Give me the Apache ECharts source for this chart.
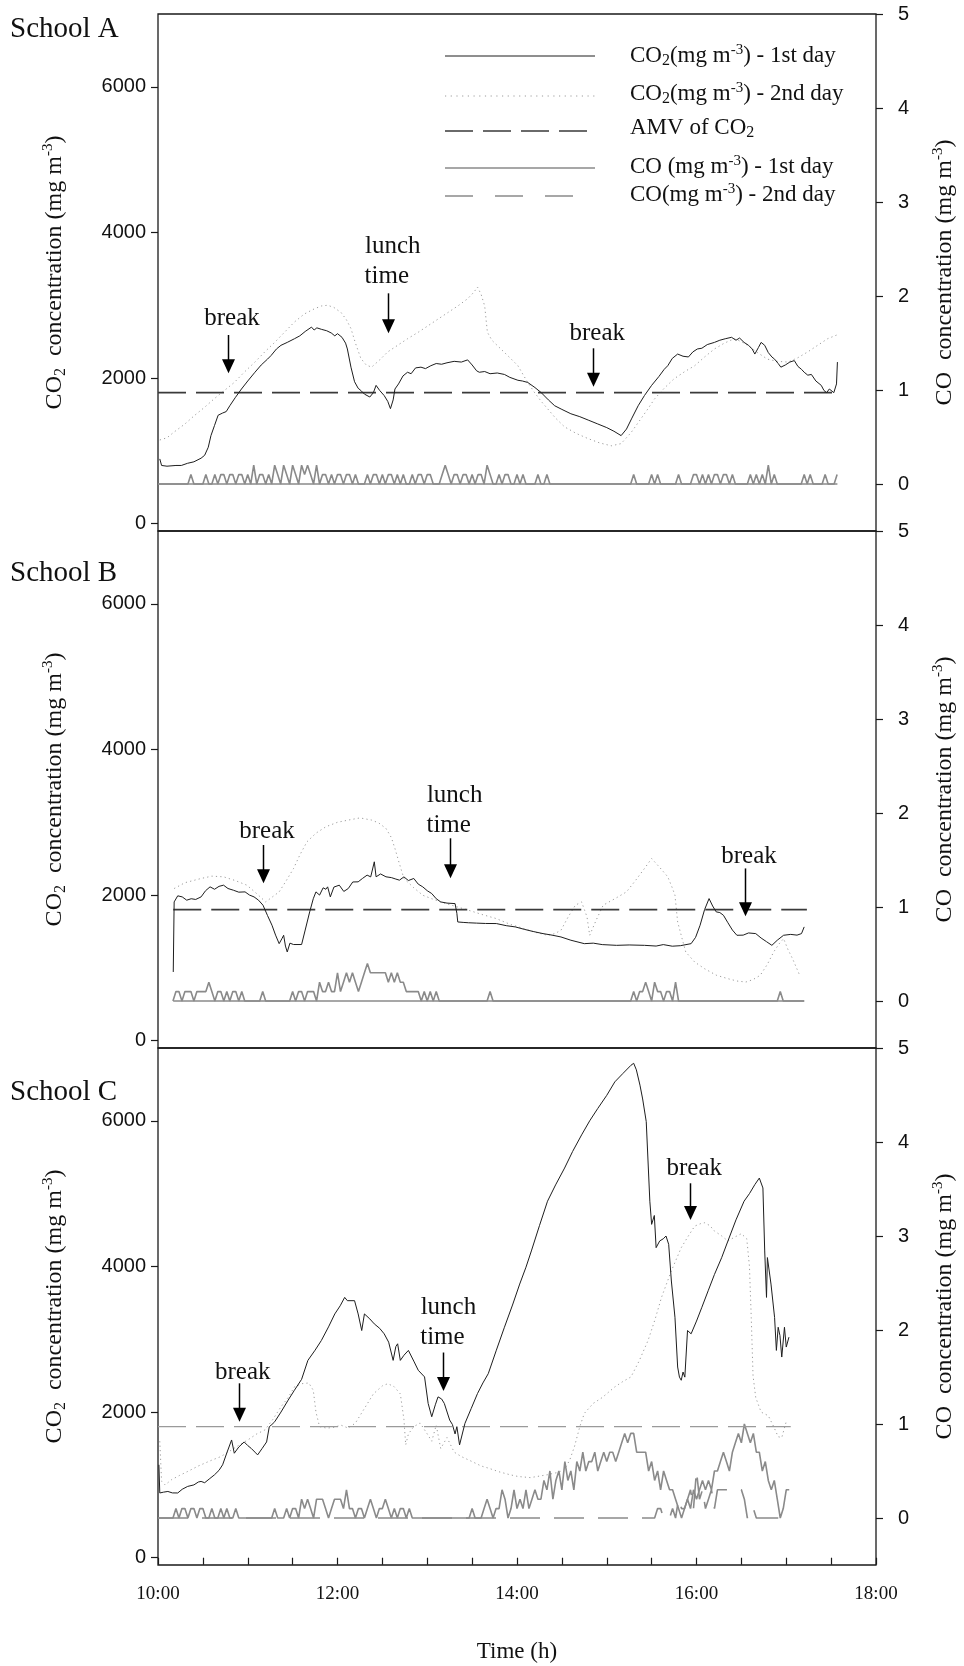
<!DOCTYPE html>
<html><head><meta charset="utf-8">
<script src="https://cdn.jsdelivr.net/npm/echarts@6/dist/echarts.min.js"></script>
<style>html,body{margin:0;padding:0;background:#fff}#c{width:964px;height:1666px}</style>
</head><body><div id="c"></div>
<script>
// ---------------- DATA ----------------
const xTickLabels = ['10:00','12:00','14:00','16:00','18:00'];
const co2Ticks = [0,2000,4000,6000];
const coTicks = [0,1,2,3,4,5];
const AMV = 1800;
const panelNames = ['School A','School B','School C'];

// School A  CO2 (mg m-3) [time h, value]
const aCO2day1 = [[10.02,890],[10.04,800],[10.10,790],[10.20,800],[10.26,800],[10.33,830],[10.40,850],[10.48,900],[10.52,940],[10.56,1050],[10.59,1210],[10.63,1350],[10.67,1490],[10.72,1520],[10.76,1540],[10.80,1620],[10.86,1730],[10.93,1850],[11.00,1960],[11.08,2080],[11.15,2180],[11.22,2260],[11.26,2310],[11.32,2400],[11.37,2450],[11.44,2490],[11.52,2540],[11.58,2580],[11.64,2640],[11.71,2700],[11.74,2660],[11.77,2690],[11.82,2670],[11.88,2650],[11.93,2620],[11.97,2580],[12.00,2610],[12.05,2560],[12.09,2480],[12.11,2400],[12.15,2150],[12.19,1950],[12.23,1860],[12.26,1830],[12.30,1780],[12.36,1740],[12.40,1800],[12.43,1900],[12.47,1830],[12.52,1760],[12.56,1680],[12.59,1580],[12.62,1700],[12.64,1850],[12.68,1920],[12.73,2030],[12.78,2080],[12.82,2060],[12.87,2140],[12.93,2150],[12.98,2130],[13.04,2170],[13.10,2200],[13.16,2190],[13.22,2210],[13.30,2230],[13.38,2220],[13.45,2250],[13.50,2180],[13.55,2100],[13.58,2080],[13.64,2090],[13.70,2060],[13.78,2070],[13.86,2050],[13.92,2010],[14.01,1970],[14.06,1960],[14.12,1940],[14.20,1870],[14.27,1800],[14.35,1700],[14.42,1620],[14.50,1570],[14.60,1510],[14.70,1470],[14.80,1420],[14.90,1370],[15.00,1320],[15.08,1270],[15.16,1210],[15.22,1300],[15.28,1450],[15.35,1620],[15.42,1760],[15.50,1900],[15.58,2020],[15.64,2120],[15.68,2170],[15.73,2270],[15.79,2330],[15.85,2300],[15.91,2290],[15.96,2360],[16.01,2400],[16.06,2410],[16.12,2460],[16.20,2490],[16.26,2520],[16.32,2540],[16.39,2560],[16.44,2520],[16.48,2550],[16.53,2490],[16.58,2450],[16.62,2400],[16.65,2330],[16.69,2420],[16.72,2490],[16.76,2450],[16.80,2350],[16.84,2290],[16.87,2260],[16.91,2200],[16.94,2150],[16.99,2180],[17.04,2220],[17.09,2240],[17.13,2160],[17.17,2120],[17.20,2080],[17.24,2040],[17.28,2050],[17.33,1960],[17.39,1900],[17.42,1830],[17.45,1800],[17.48,1850],[17.50,1830],[17.53,1800],[17.56,1920],[17.57,2220]];
const aCO2day2 = [[10.02,1150],[10.10,1180],[10.18,1260],[10.30,1370],[10.41,1490],[10.52,1600],[10.63,1720],[10.74,1830],[10.85,1940],[10.96,2080],[11.08,2220],[11.19,2360],[11.30,2490],[11.41,2630],[11.52,2770],[11.63,2880],[11.74,2950],[11.82,2990],[11.89,3000],[11.96,2970],[12.04,2900],[12.10,2800],[12.15,2680],[12.20,2480],[12.26,2270],[12.32,2180],[12.38,2150],[12.47,2250],[12.56,2360],[12.67,2450],[12.78,2540],[12.90,2630],[13.01,2720],[13.12,2810],[13.23,2900],[13.34,2990],[13.45,3090],[13.52,3180],[13.56,3250],[13.60,3150],[13.64,2990],[13.67,2630],[13.72,2520],[13.82,2400],[13.92,2280],[14.01,2170],[14.10,1980],[14.19,1810],[14.27,1680],[14.34,1580],[14.43,1450],[14.53,1330],[14.66,1240],[14.79,1170],[14.92,1110],[15.05,1070],[15.16,1100],[15.27,1250],[15.38,1440],[15.46,1580],[15.53,1710],[15.64,1860],[15.75,1990],[15.87,2090],[15.98,2170],[16.09,2290],[16.20,2400],[16.31,2480],[16.42,2540],[16.50,2500],[16.57,2450],[16.68,2350],[16.79,2260],[16.90,2230],[17.02,2220],[17.13,2280],[17.24,2360],[17.35,2450],[17.46,2540],[17.56,2590]];
const aAMV = [[10.0,AMV],[17.57,AMV]];
// CO in tenths of mg m-3, one value every 2 minutes from the start index (index 0 = 10:00)
const aCOday1Start = 0;
const aCOday1 = [0,
0,0,0,0,0,0,0,0,0,0, 1,0,0,0,0,1,0,0,1,0, 1,1,0,1,1,0,1,1,0,1, 0,2,0,1,1,0,1,0,2,1,
0,2,1,0,2,1,0,2,1,2, 1,0,2,0,1,1,0,1,0,1, 1,0,1,1,0,1,0,0,0,1, 0,1,1,0,1,0,1,1,0,1,
0,1,0,0,1,0,1,1,0,1, 1,0,0,0,1,2,1,0,1,1, 0,1,1,0,1,0,1,1,0,2, 1,0,0,1,0,1,1,0,0,1,
0,1,0,0,0,0,1,0,0,1, 0,0,0,0,0,0,0,0,0,0, 0,0,0,0,0,0,0,0,0,0, 0,0,0,0,0,0,0,0,1,0,
0,0,0,0,1,0,1,0,0,0, 0,0,0,1,0,0,0,0,1,1, 0,1,0,1,0,1,1,0,1,1, 0,1,0,0,0,0,0,1,0,1,
0,1,0,2,0,1,0,0,0,0, 0,0,0,0,0,1,0,1,0,0, 0,0,1,0,0,0,1];
const aCOday2 = [[10.0,0],[17.57,0]];

// School B
const bCO2day1 = [[10.17,944],[10.18,1906],[10.22,1990],[10.27,1975],[10.32,1930],[10.37,1950],[10.42,1940],[10.48,1975],[10.53,2060],[10.58,2113],[10.63,2080],[10.68,2120],[10.73,2136],[10.78,2090],[10.84,2067],[10.90,2040],[10.97,2044],[11.02,2000],[11.07,1975],[11.12,1930],[11.17,1861],[11.22,1720],[11.27,1586],[11.31,1450],[11.35,1333],[11.38,1400],[11.40,1448],[11.42,1300],[11.44,1219],[11.47,1340],[11.51,1321],[11.60,1321],[11.64,1520],[11.69,1769],[11.73,1950],[11.76,2044],[11.80,2000],[11.84,2100],[11.87,2080],[11.89,2113],[11.92,1975],[11.96,2110],[12.02,2136],[12.07,2050],[12.12,2090],[12.17,2180],[12.23,2182],[12.28,2230],[12.33,2274],[12.37,2250],[12.41,2457],[12.43,2251],[12.48,2290],[12.54,2251],[12.60,2240],[12.65,2220],[12.69,2205],[12.74,2250],[12.79,2200],[12.85,2228],[12.90,2150],[12.95,2113],[13.00,2060],[13.05,2021],[13.10,1950],[13.15,1906],[13.22,1890],[13.31,1883],[13.33,1750],[13.34,1631],[13.40,1625],[13.46,1620],[13.55,1615],[13.65,1610],[13.77,1609],[13.88,1580],[13.98,1563],[14.08,1530],[14.18,1500],[14.29,1471],[14.39,1450],[14.49,1425],[14.60,1380],[14.75,1333],[14.85,1340],[14.95,1320],[15.11,1310],[15.25,1315],[15.42,1310],[15.55,1300],[15.63,1320],[15.73,1298],[15.82,1305],[15.94,1333],[15.99,1420],[16.04,1586],[16.09,1800],[16.14,1952],[16.18,1850],[16.22,1769],[16.26,1760],[16.30,1723],[16.35,1620],[16.40,1520],[16.45,1448],[16.52,1450],[16.58,1480],[16.66,1471],[16.72,1410],[16.78,1360],[16.84,1310],[16.90,1380],[16.97,1448],[17.05,1460],[17.12,1450],[17.17,1471],[17.20,1563]];
const bCO2day2 = [[10.18,2090],[10.30,2170],[10.48,2228],[10.60,2260],[10.73,2251],[10.86,2200],[10.99,2136],[11.10,2020],[11.20,1906],[11.28,1980],[11.35,2044],[11.43,2200],[11.51,2365],[11.58,2550],[11.66,2732],[11.76,2850],[11.87,2938],[12.00,3000],[12.12,3030],[12.25,3060],[12.38,3030],[12.46,2990],[12.54,2915],[12.60,2790],[12.64,2640],[12.69,2430],[12.74,2228],[12.85,2100],[12.95,1998],[13.05,1950],[13.15,1906],[13.30,1850],[13.46,1792],[13.62,1730],[13.77,1677],[13.92,1600],[14.08,1539],[14.20,1490],[14.34,1448],[14.42,1470],[14.49,1517],[14.57,1700],[14.65,1861],[14.72,1906],[14.78,1700],[14.81,1448],[14.88,1650],[14.96,1861],[15.09,1950],[15.22,2044],[15.32,2200],[15.42,2365],[15.50,2502],[15.59,2380],[15.68,2251],[15.73,2100],[15.76,1998],[15.79,1631],[15.84,1400],[15.88,1219],[15.98,1080],[16.09,989],[16.22,900],[16.35,852],[16.45,820],[16.55,806],[16.63,840],[16.71,898],[16.79,1050],[16.86,1219],[16.92,1330],[16.97,1402],[17.02,1250],[17.07,1127],[17.15,898]];
const bAMV = [[10.17,AMV],[17.23,AMV]];
const bCOday1Start = 5;
const bCOday1 = [0,1,1,0,1,1,
1,0,1,1,1,1,2,1,0,1, 1,0,1,0,1,1,0,1,0,0, 0,0,0,0,1,0,0,0,0,0, 0,0,0,0,1,0,1,1,0,1,
1,1,0,2,1,1,2,1,1,3, 1,2,3,2,3,2,1,2,3,4, 3,3,3,3,3,3,2,3,2,3, 2,2,1,1,1,1,1,0,1,0,
1,0,1,0,0,0,0,0,0,0, 0,0,0,0,0,0,0,0,0,0, 1,0,0,0,0,0,0,0,0,0, 0,0,0,0,0,0,0,0,0,0,
0,0,0,0,0,0,0,0,0,0, 0,0,0,0,0,0,0,0,0,0, 0,0,0,0,0,0,0,0,1,0, 1,1,2,1,0,2,1,1,0,1,
1,0,2,0,0,0,0,0,0,0, 0,0,0,0,0,0,0,0,0,0, 0,0,0,0,0,0,0,0,0,0, 0,0,0,0,0,0,0,1,0,0,
0,0,0,0,0,0];
const bCOday2 = [[10.17,0],[17.2,0]];

// School C
const cCO2day1 = [[10.01,1276],[10.02,889],[10.06,900],[10.11,910],[10.16,890],[10.22,889],[10.27,940],[10.33,979],[10.40,1000],[10.45,1040],[10.48,1048],[10.52,1030],[10.57,1080],[10.63,1139],[10.68,1200],[10.72,1276],[10.77,1450],[10.82,1617],[10.85,1435],[10.90,1520],[10.96,1590],[11.00,1540],[11.04,1500],[11.08,1450],[11.11,1412],[11.16,1500],[11.21,1590],[11.24,1799],[11.27,1830],[11.30,1867],[11.37,2000],[11.45,2164],[11.52,2300],[11.60,2450],[11.67,2710],[11.75,2850],[11.82,2983],[11.90,3170],[11.97,3348],[12.03,3460],[12.08,3575],[12.11,3530],[12.13,3550],[12.19,3530],[12.23,3348],[12.27,3120],[12.30,3348],[12.36,3280],[12.41,3211],[12.47,3150],[12.52,3075],[12.57,2960],[12.62,2710],[12.65,2900],[12.67,2938],[12.70,2710],[12.74,2780],[12.79,2847],[12.85,2700],[12.90,2574],[12.97,2483],[13.01,2119],[13.05,1936],[13.09,2100],[13.12,2209],[13.16,2180],[13.19,2119],[13.25,1890],[13.28,1830],[13.31,1700],[13.33,1800],[13.36,1549],[13.42,1845],[13.49,2050],[13.56,2255],[13.62,2400],[13.68,2528],[13.77,2850],[13.86,3165],[13.95,3470],[14.03,3758],[14.10,3990],[14.16,4213],[14.25,4560],[14.34,4896],[14.43,5120],[14.53,5351],[14.62,5580],[14.72,5807],[14.81,6000],[14.90,6170],[15.00,6350],[15.09,6535],[15.18,6650],[15.27,6763],[15.30,6790],[15.33,6700],[15.37,6490],[15.40,6300],[15.44,5989],[15.48,4896],[15.50,4578],[15.53,4700],[15.55,4258],[15.59,4350],[15.63,4380],[15.66,4418],[15.69,4304],[15.72,3800],[15.76,3302],[15.79,2619],[15.81,2480],[15.83,2437],[15.85,2550],[15.87,2480],[15.90,3120],[15.94,3075],[16.00,3250],[16.06,3440],[16.13,3666],[16.20,3890],[16.28,4120],[16.35,4349],[16.44,4640],[16.53,4896],[16.59,5000],[16.65,5124],[16.70,5214],[16.74,5078],[16.76,4213],[16.78,3575],[16.79,4122],[16.83,3758],[16.87,3300],[16.89,2847],[16.91,3165],[16.93,3050],[16.95,2756],[16.98,3165],[17.00,2893],[17.03,3029]];
const cCO2day2 = [[10.02,1600],[10.04,1050],[10.08,1000],[10.15,1071],[10.24,1130],[10.33,1184],[10.45,1260],[10.58,1330],[10.70,1389],[10.82,1480],[10.92,1560],[11.00,1617],[11.10,1700],[11.19,1754],[11.28,1900],[11.37,2072],[11.45,2200],[11.52,2346],[11.60,2390],[11.68,2400],[11.73,2300],[11.76,2000],[11.80,1800],[11.88,1780],[11.96,1790],[12.04,1820],[12.12,1780],[12.20,1850],[12.30,2050],[12.40,2250],[12.50,2360],[12.56,2390],[12.63,2350],[12.70,2250],[12.74,1900],[12.76,1550],[12.79,1700],[12.85,1800],[12.92,1850],[13.00,1700],[13.05,1600],[13.10,1820],[13.15,1500],[13.22,1650],[13.30,1450],[13.38,1389],[13.50,1320],[13.60,1260],[13.68,1231],[13.80,1180],[13.92,1140],[14.01,1116],[14.15,1100],[14.34,1140],[14.45,1170],[14.53,1208],[14.59,1350],[14.64,1526],[14.70,1800],[14.75,1982],[14.85,2120],[14.95,2200],[15.09,2346],[15.18,2420],[15.27,2483],[15.36,2700],[15.46,2983],[15.54,3280],[15.61,3575],[15.72,3940],[15.83,4258],[15.91,4420],[15.98,4554],[16.05,4590],[16.09,4600],[16.15,4560],[16.20,4486],[16.28,4420],[16.35,4349],[16.42,4400],[16.50,4450],[16.56,4380],[16.59,4000],[16.61,3300],[16.63,2500],[16.66,2200],[16.72,2000],[16.80,1950],[16.86,1800],[16.91,1662],[16.95,1650],[17.00,1870]];
const cAMV = [[10.0,AMV],[17.05,AMV]];
const cCOday1Start = 0;
const cCOday1 = [0,0,0,0,0,0,1,0,1,1, 0,1,1,0,1,1,0,0,1,0, 0,1,0,1,0,0,1,0,0,0, 0,0,0,0,0,0,0,0,0,1,
0,0,0,1,0,1,1,0,2,1, 2,1,0,2,2,2,1,0,1,2, 2,2,1,3,1,1,0,1,1,0, 1,2,1,0,1,1,2,1,0,1,
0,1,1,0,1,0,0,0,0,0, 0,0,0,0,0,0,0,0,0,0, 0,0,0,0,0,1,0,0,0,1, 2,1,0,1,1,3,2,0,1,3,
1,2,1,3,1,2,3,2,2,4, 3,5,2,4,5,3,6,4,5,3, 6,5,7,5,6,6,7,5,6,7, 6,7,7,6,7,8,9,8,9,9,
7,7,7,7,5,6,4,5,3,5, 4,3,3,2,1,0,1,2,1,3, 2,3,4,3,4,3,5,5,6,7, 6,5,7,8,9,8,10,9,8,9,
7,7,5,6,4,3,4,2,0,1, 3,3];
const cCOday2Lead = [[10.0,0]];
const cCOday2Start = 166;
const cCOday2 = [0,1,1,0,0,0, 1,0,2,1, 1,2,3,1,5,2,3,1,2,3,1, 3,3,3,3,3,3,3,3,3,2,0, 1,1, 0,0,0,0,0,0,0,0,0,0,0,0];

// annotations: [panel, label lines, time of arrow, CO2 value at last text line, value arrow top, value arrow tip]
const notes = [
  [0, ['break'], 10.78, 2821, 2592, 2066],
  [0, ['lunch','time'], 12.56, 3392, 3164, 2614],
  [0, ['break'], 14.85, 2615, 2409, 1882],
  [1, ['break'], 11.17, 2871, 2688, 2162],
  [1, ['lunch','time'], 13.25, 2962, 2780, 2231],
  [1, ['break'], 16.54, 2527, 2366, 1711],
  [2, ['break'], 10.90, 2541, 2395, 1868],
  [2, ['lunch','time'], 13.18, 3024, 2818, 2291],
  [2, ['break'], 15.93, 5348, 5142, 4638]
];

// ---------------- CHART ----------------
const SERIF = '"Liberation Serif","Times New Roman",serif';
const SANS = '"Liberation Sans",Arial,sans-serif';
const INK = '#111';
const PANEL_TOP = [14, 531, 1048];
const PANEL_H = 517;

const coGrid = (start, tenths) => tenths.map((v, k) => [10 + (start + k) / 30, v / 10]);

const chart = echarts.init(document.getElementById('c'), null, {renderer: 'canvas', width: 964, height: 1666});

function line(name, p, yOff, data, color, width, type, z) {
  return {type: 'line', name, xAxisIndex: p, yAxisIndex: 2 * p + yOff, data, symbol: 'none', showSymbol: false,
    silent: true, animation: false, z, lineStyle: {color, width, type}};
}

const panels = [
  {d1: aCO2day1, d2: aCO2day2, amv: aAMV, co1: coGrid(aCOday1Start, aCOday1), co2: aCOday2, co2Type: 'solid', amvColor: '#3a3a3a', amvW: 1.6},
  {d1: bCO2day1, d2: bCO2day2, amv: bAMV, co1: coGrid(bCOday1Start, bCOday1), co2: bCOday2, co2Type: 'solid', amvColor: '#3a3a3a', amvW: 1.6},
  {d1: cCO2day1, d2: cCO2day2, amv: cAMV, co1: coGrid(cCOday1Start, cCOday1), co2: cCOday2Lead.concat(coGrid(cCOday2Start, cCOday2)), co2Type: [30, 14], amvColor: '#9a9a9a', amvW: 1.1}
];

const series = [];
panels.forEach((pd, p) => {
  series.push(line('CO day2', p, 1, pd.co2, '#8a8a8a', 1.6, pd.co2Type, 2));
  series.push(line('CO day1', p, 1, pd.co1, '#8a8a8a', 1.6, 'solid', 3));
  series.push(line('CO2 day2', p, 0, pd.d2, '#9c9c9c', 1, [1.2, 3.2], 4));
  series.push(line('AMV', p, 0, pd.amv, pd.amvColor, pd.amvW, [28, 10], 5));
  series.push(line('CO2 day1', p, 0, pd.d1, '#1e1e1e', 1, 'solid', 6));
});

const grids = PANEL_TOP.map(t => ({left: 158, right: 88, top: t, height: PANEL_H, show: true,
  borderColor: '#1a1a1a', borderWidth: 1.3, backgroundColor: 'transparent'}));

const xAxes = PANEL_TOP.map((t, i) => ({
  gridIndex: i, type: 'value', min: 10, max: 18, interval: 0.5,
  splitLine: {show: false}, axisLine: {show: false},
  axisTick: {show: i === 2, inside: false, length: 7, lineStyle: {color: '#1a1a1a', width: 1.2}},
  axisLabel: {show: i === 2, margin: 20, fontFamily: SERIF, fontSize: 19, color: INK,
    formatter: v => { const h = Math.round(v); return (Math.abs(v - h) < 1e-6 && h % 2 === 0) ? xTickLabels[(h - 10) / 2] : ''; }}
}));

const plain = v => String(v);
const yAxes = [];
PANEL_TOP.forEach((t, i) => {
  yAxes.push({gridIndex: i, type: 'value', position: 'left', min: -100, max: 7000,
    splitLine: {show: false}, axisLine: {show: false},
    axisTick: {show: true, inside: false, length: 7, customValues: co2Ticks, lineStyle: {color: '#1a1a1a', width: 1.2}},
    axisLabel: {customValues: co2Ticks, formatter: plain, margin: 12, fontFamily: SANS, fontSize: 20, color: INK}});
  yAxes.push({gridIndex: i, type: 'value', position: 'right', min: -0.5, max: 5,
    splitLine: {show: false}, axisLine: {show: false},
    axisTick: {show: true, inside: false, length: 7, customValues: coTicks, lineStyle: {color: '#1a1a1a', width: 1.2}},
    axisLabel: {customValues: coTicks, formatter: plain, margin: 22, fontFamily: SANS, fontSize: 20, color: INK}});
});

chart.setOption({
  animation: false,
  backgroundColor: '#fff',
  grid: grids, xAxis: xAxes, yAxis: yAxes, series
});

// ---------------- TEXT / DECORATION ----------------
const rich = {
  sub: {fontFamily: SERIF, fontSize: 16, fill: INK, verticalAlign: 'bottom', lineHeight: 16},
  sup: {fontFamily: SERIF, fontSize: 15, fill: INK, verticalAlign: 'top', lineHeight: 15}
};
function txt(x, y, text, size, align, rot) {
  return {type: 'text', x, y, rotation: rot || 0, silent: true, z: 50,
    style: {text, fontFamily: SERIF, fontSize: size, fill: INK, align: align || 'center', verticalAlign: 'middle',
      lineHeight: Math.round(size * 1.15), rich}};
}

const g = [];
// panel titles
[29, 573, 1092].forEach((y, i) => g.push(txt(10, y, panelNames[i], 29, 'left')));
// axis titles
PANEL_TOP.forEach(t => {
  const cy = t + PANEL_H / 2;
  g.push(txt(55, cy, 'CO{sub|2}  concentration (mg m{sup|-3})', 24, 'center', Math.PI / 2));
  g.push(txt(945, cy, 'CO  concentration (mg m{sup|-3})', 24, 'center', Math.PI / 2));
});
g.push(txt(517, 1652, 'Time (h)', 23, 'center'));

// legend (panel A)
const legendRows = [
  {y: 56, ty: 56, text: 'CO{sub|2}(mg m{sup|-3}) - 1st day', stroke: '#1e1e1e', w: 1, dash: null, x2: 595},
  {y: 96, ty: 94, text: 'CO{sub|2}(mg m{sup|-3}) - 2nd day', stroke: '#9c9c9c', w: 1, dash: [1.2, 4.5], x2: 595},
  {y: 131, ty: 128, text: 'AMV of CO{sub|2}', stroke: '#3a3a3a', w: 1.6, dash: [28, 10], x2: 587},
  {y: 168, ty: 167, text: 'CO (mg m{sup|-3}) - 1st day', stroke: '#8a8a8a', w: 1.6, dash: null, x2: 595},
  {y: 196, ty: 195, text: 'CO(mg m{sup|-3}) - 2nd day', stroke: '#8a8a8a', w: 1.6, dash: [28, 22], x2: 574}
];
legendRows.forEach(r => {
  g.push({type: 'line', silent: true, z: 50, shape: {x1: 445, y1: r.y, x2: r.x2, y2: r.y},
    style: {stroke: r.stroke, lineWidth: r.w, lineDash: r.dash || null}});
  g.push(txt(630, r.ty, r.text, 23, 'left'));
});

// annotations anchored to data coordinates
notes.forEach(n => {
  const [p, lines, t, vText, vTop, vTip] = n;
  const finder = {xAxisIndex: p, yAxisIndex: 2 * p};
  const top = chart.convertToPixel(finder, [t, vTop]);
  const tip = chart.convertToPixel(finder, [t, vTip]);
  const tp = chart.convertToPixel(finder, [t, vText]);
  const ax = Math.round(top[0]) + 0.5;
  g.push({type: 'line', silent: true, z: 50, shape: {x1: ax, y1: top[1], x2: ax, y2: tip[1] - 10},
    style: {stroke: '#000', lineWidth: 1.5}});
  g.push({type: 'polygon', silent: true, z: 50,
    shape: {points: [[ax - 6.5, tip[1] - 14], [ax + 6.5, tip[1] - 14], [ax, tip[1]]]}, style: {fill: '#000'}});
  if (lines.length === 1) {
    g.push(txt(tp[0] + 4, tp[1], lines[0], 25, 'center'));
  } else {
    g.push(txt(tp[0] + 5, tp[1] - 30, lines[0], 25, 'center'));
    g.push(txt(tp[0] - 1, tp[1], lines[1], 25, 'center'));
  }
});

chart.setOption({graphic: g});
</script></body></html>
